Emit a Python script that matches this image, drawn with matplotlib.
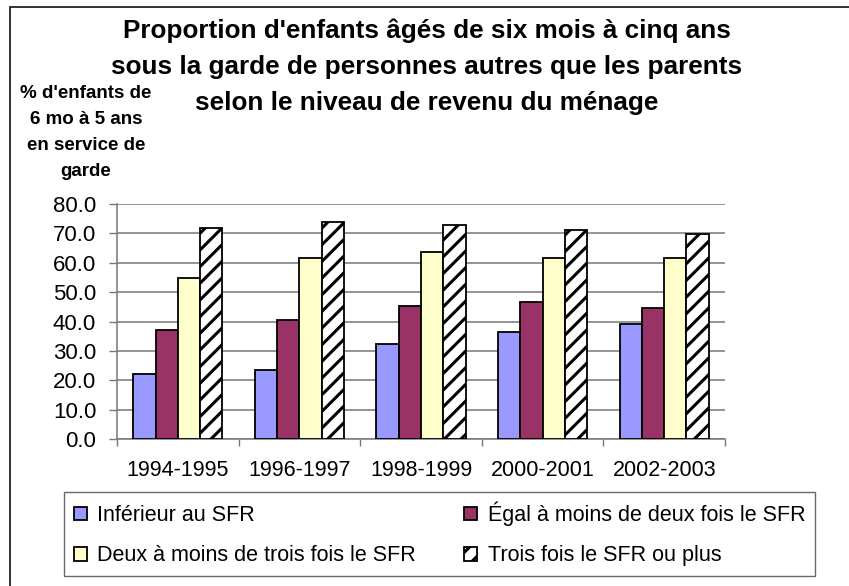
# -*- coding: utf-8 -*-
"""
Proportion d'enfants en service de garde selon le revenu du ménage
"""
import matplotlib
matplotlib.use("Agg")
import matplotlib.pyplot as plt
from matplotlib.patches import Rectangle
import numpy as np

# données
periodes = ["1994-1995", "1996-1997", "1998-1999", "2000-2001", "2002-2003"]
inferieur_sfr = [22.2, 23.6, 32.4, 36.5, 39.2]
egal_deux_fois = [37.2, 40.6, 45.3, 46.7, 44.8]
deux_trois_fois = [54.9, 61.8, 63.8, 61.7, 61.7]
trois_fois_plus = [72.0, 74.0, 72.7, 71.2, 69.9]

noms_series = [
    "Inférieur au SFR",
    "Égal à moins de deux fois le SFR",
    "Deux à moins de trois fois le SFR",
    "Trois fois le SFR ou plus",
]

titre = ["Proportion d'enfants âgés de six mois à cinq ans",
         "sous la garde de personnes autres que les parents",
         "selon le niveau de revenu du ménage"]
titre_axe_y = ["% d'enfants de", "6 mo à 5 ans", "en service de", "garde"]

plt.rcParams['font.family'] = ['Liberation Sans', 'DejaVu Sans']
plt.rcParams['hatch.linewidth'] = 2.2

W, H = 849, 586
fig = plt.figure(figsize=(W / 100, H / 100), dpi=100)

# cadre autour du graphique (coupé à droite et en bas)
fig.patches.append(Rectangle((9.5 / W, -0.1), 1.2, 1.1 - 7.5 / H,
                             transform=fig.transFigure, fill=False,
                             edgecolor='#222222', linewidth=1.3))

ax = fig.add_axes([117 / W, 1 - 439.3 / H, (725 - 117) / W, (439.3 - 204) / H])

x = np.arange(len(periodes))
w = 0.183
styles = [
    dict(color='#9999FF'),
    dict(color='#993366'),
    dict(color='#FFFFCC'),
    dict(color='white', hatch='//'),
]
series = [inferieur_sfr, egal_deux_fois, deux_trois_fois, trois_fois_plus]
barres = []
for i, (vals, st, nom) in enumerate(zip(series, styles, noms_series)):
    b = ax.bar(x + (i - 1.5) * w, vals, w, edgecolor='black', linewidth=1.3,
               label=nom, zorder=3, **st)
    barres.append(b)

ax.set_xlim(-0.5, len(periodes) - 0.5)
ax.set_ylim(0, 80)
ax.set_yticks(np.arange(0, 81, 10))
ax.set_yticklabels([f"{v:.1f}" for v in np.arange(0, 81, 10)])
ax.yaxis.grid(True, color='#777777', linewidth=1.1, zorder=0)
ax.set_axisbelow(True)

# graduations x aux limites des catégories
ax.set_xticks(np.arange(-0.5, len(periodes), 1.0))
ax.set_xticklabels([])
ax.set_xticks(x, minor=True)
ax.set_xticklabels(periodes, minor=True)
ax.tick_params(axis='x', which='major', length=5, width=1, color='#777777')
ax.tick_params(axis='x', which='minor', length=0, pad=15, labelsize=15.5)
ax.tick_params(axis='y', length=6, width=1, color='#777777', pad=9,
               labelsize=16)

for s in ['top', 'right']:
    ax.spines[s].set_visible(False)
for s in ['left', 'bottom']:
    ax.spines[s].set_color('#777777')
    ax.spines[s].set_linewidth(1.1)

# titre
for k, ligne in enumerate(titre):
    fig.text(427 / W, 1 - (31 + 36 * k) / H, ligne, ha='center', va='center',
             fontsize=18.8, fontweight='bold')

# titre de l'axe y
for k, ligne in enumerate(titre_axe_y):
    fig.text(86 / W, 1 - (93 + 26 * k) / H, ligne, ha='center', va='center',
             fontsize=13.5, fontweight='bold')

# légende : ligne 1 = Inférieur, Égal ; ligne 2 = Deux, Trois
ordre = [0, 2, 1, 3]
leg = fig.legend([barres[i] for i in ordre], [noms_series[i] for i in ordre],
                 ncol=2, loc='center', mode='expand',
                 bbox_to_anchor=(64 / W, 1 - 573 / H, (815 - 64) / W, (573 - 495) / H),
                 bbox_transform=fig.transFigure,
                 fontsize=15.5, fancybox=False, frameon=True,
                 handlelength=0.6, handleheight=0.6, handletextpad=0.5,
                 labelspacing=0.9, borderaxespad=0, borderpad=0.45)
leg.get_frame().set_edgecolor('#444444')
leg.get_frame().set_linewidth(1.0)

plt.savefig("out.png", dpi=100)
plt.close()
